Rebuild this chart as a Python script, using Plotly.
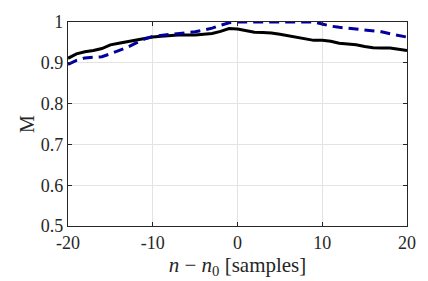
import plotly.graph_objects as go

n_samples = list(range(-20, 21))
black_M = [0.911, 0.922, 0.927, 0.930, 0.935, 0.944, 0.948, 0.952, 0.956, 0.960,
           0.963, 0.965, 0.967, 0.968, 0.968, 0.968, 0.970, 0.972, 0.977, 0.984,
           0.983, 0.979, 0.975, 0.974, 0.973, 0.970, 0.966, 0.963, 0.959, 0.955,
           0.955, 0.953, 0.948, 0.946, 0.944, 0.940, 0.937, 0.936, 0.936, 0.933, 0.930]
blue_M = [0.896, 0.906, 0.912, 0.913, 0.915, 0.922, 0.930, 0.938, 0.948, 0.958,
          0.965, 0.967, 0.969, 0.971, 0.973, 0.976, 0.980, 0.985, 0.992, 0.998,
          1.000, 1.000, 1.000, 1.000, 1.000, 1.000, 1.000, 1.000, 1.000, 1.000,
          0.995, 0.990, 0.987, 0.985, 0.983, 0.981, 0.979, 0.976, 0.971, 0.967, 0.963]
x_ticks = [-20, -10, 0, 10, 20]
x_ticktext = ["-20", "-10", "0", "10", "20"]
y_ticks = [0.5, 0.6, 0.7, 0.8, 0.9, 1.0]
y_ticktext = ["0.5", "0.6", "0.7", "0.8", "0.9", "1"]

font_family = "Liberation Serif"

fig = go.Figure()
fig.add_trace(go.Scatter(x=n_samples, y=black_M, mode="lines",
                         line=dict(color="black", width=3), showlegend=False))
fig.add_trace(go.Scatter(x=n_samples, y=blue_M, mode="lines",
                         line=dict(color="#00009E", width=3, dash="10px,6px"),
                         showlegend=False))

axis_common = dict(showline=True, linecolor="#262626", linewidth=1.2, mirror="allticks",
                   ticks="inside", ticklen=4, tickcolor="#262626",
                   showgrid=True, gridcolor="#E3E3E3", gridwidth=1, zeroline=False,
                   tickfont=dict(family=font_family, size=18, color="#262626"))

fig.update_xaxes(range=[-20, 20], tickvals=x_ticks, ticktext=x_ticktext,
                 title=dict(text="<i>n</i> − <i>n</i><sub>0</sub> [samples]",
                            font=dict(family=font_family, size=21, color="#262626"),
                            standoff=2),
                 **axis_common)
fig.update_yaxes(range=[0.5, 1.0], tickvals=y_ticks, ticktext=y_ticktext,
                 title=dict(text="M", font=dict(family=font_family, size=20, color="#262626"),
                            standoff=0),
                 **axis_common)

fig.update_layout(width=428, height=281, margin=dict(l=68, r=19, t=22, b=53),
                  plot_bgcolor="white", paper_bgcolor="white")

fig.write_html("out.html", config={"displayModeBar": False},
               post_script="document.body.style.margin='0';")
